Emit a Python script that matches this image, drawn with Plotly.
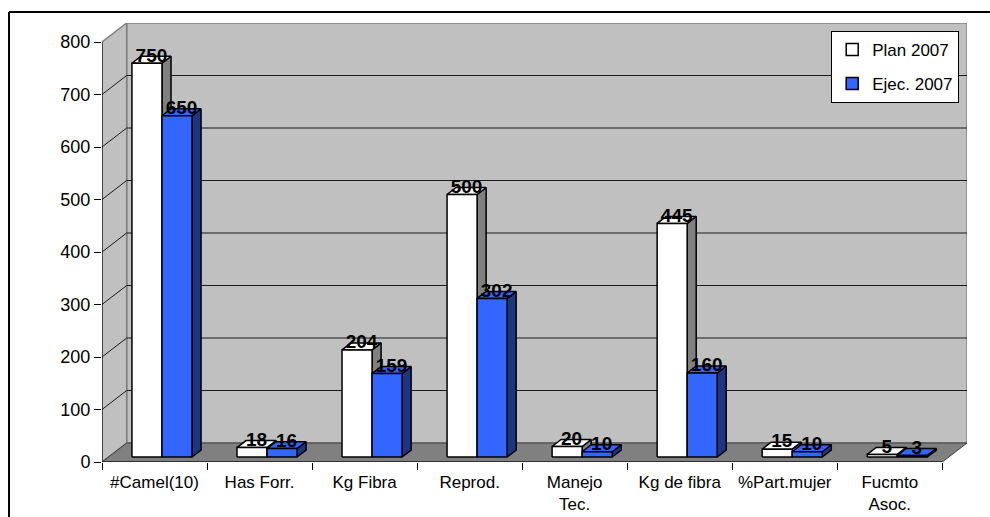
import plotly.graph_objects as go

# ---------------- data ----------------
categories = ["#Camel(10)", "Has Forr.", "Kg Fibra", "Reprod.", "Manejo<br>Tec.",
              "Kg de fibra", "%Part.mujer", "Fucmto<br>Asoc."]
plan_2007 = [750, 18, 204, 500, 20, 445, 15, 5]
ejec_2007 = [650, 16, 159, 302, 10, 160, 10, 3]
series_names = ["Plan 2007", "Ejec. 2007"]
y_ticks = [0, 100, 200, 300, 400, 500, 600, 700, 800]

# ---------------- style / geometry constants ----------------
FONT = "Liberation Sans, Arial, sans-serif"
DX, DY = 0.235, 36.2          # wall depth (x units, value units)
Y_MAX = 800
BASE = 9.5                    # bars sit mid-depth on the floor
BAR_START, BAR_W = 0.285, 0.286
BDX, BDY = 0.086, 13.3        # bar depth
front_colors = ["#FFFFFF", "#3366FF"]
side_colors = ["#808080", "#1F3580"]
top_colors = ["#FFFFFF", "#3366FF"]
OUTLINE = dict(color="#000000", width=1.5)
n = len(categories)

fig = go.Figure()

# ---------------- walls & floor (shapes) ----------------
shapes = []
wall_line = dict(color="#808080", width=1.5)
shapes.append(dict(type="path", xref="x", yref="y", layer="below",
                   path=f"M {DX},{DY} L {n+DX},{DY} L {n+DX},{Y_MAX+DY} L {DX},{Y_MAX+DY} Z",
                   fillcolor="#C0C0C0", line=wall_line))
shapes.append(dict(type="path", xref="x", yref="y", layer="below",
                   path=f"M 0,0 L 0,{Y_MAX} L {DX},{Y_MAX+DY} L {DX},{DY} Z",
                   fillcolor="#C0C0C0", line=wall_line))
shapes.append(dict(type="path", xref="x", yref="y", layer="below",
                   path=f"M 0,0 L {DX},{DY} L {n+DX},{DY} L {n},0 Z",
                   fillcolor="#808080", line=dict(color="#404040", width=1)))
for v in y_ticks[1:-1]:
    shapes.append(dict(type="line", xref="x", yref="y", layer="below",
                       x0=DX, x1=n + DX, y0=v + DY, y1=v + DY,
                       line=dict(color="#1a1a1a", width=1)))
    shapes.append(dict(type="line", xref="x", yref="y", layer="below",
                       x0=0, x1=DX, y0=v, y1=v + DY,
                       line=dict(color="#1a1a1a", width=1)))
shapes.append(dict(type="line", xref="x", yref="y", layer="below",
                   x0=0, x1=0, y0=0, y1=Y_MAX, line=dict(color="#000000", width=1)))
shapes.append(dict(type="line", xref="x", yref="y", layer="below",
                   x0=0, x1=n, y0=0, y1=0, line=dict(color="#000000", width=1)))
# outer chart border (top & left visible)
shapes.append(dict(type="line", xref="paper", yref="paper",
                   x0=-0.1075, x1=1.05, y0=1.025, y1=1.025,
                   line=dict(color="#000000", width=2)))
shapes.append(dict(type="line", xref="paper", yref="paper",
                   x0=-0.1075, x1=-0.1075, y0=1.025, y1=-0.15,
                   line=dict(color="#000000", width=2)))

# ---------------- 3D bars built from data ----------------
def faces(values, s):
    fx, fy, sx, sy, tx, ty = [], [], [], [], [], []
    for i, v in enumerate(values):
        x0 = i + BAR_START + s * BAR_W
        x1 = x0 + BAR_W
        top = BASE + v
        fx += [x0, x1, x1, x0, x0, None]
        fy += [BASE, BASE, top, top, BASE, None]
        sx += [x1, x1 + BDX, x1 + BDX, x1, x1, None]
        sy += [BASE, BASE + BDY, top + BDY, top, BASE, None]
        tx += [x0, x1, x1 + BDX, x0 + BDX, x0, None]
        ty += [top, top, top + BDY, top + BDY, top, None]
    return (fx, fy), (sx, sy), (tx, ty)

for s, vals in enumerate([plan_2007, ejec_2007]):
    (fx, fy), (sx, sy), (tx, ty) = faces(vals, s)
    for (xx, yy), col in [((sx, sy), side_colors[s]), ((tx, ty), top_colors[s]),
                          ((fx, fy), front_colors[s])]:
        fig.add_trace(go.Scatter(x=xx, y=yy, mode="lines", fill="toself",
                                 fillcolor=col, line=OUTLINE, showlegend=False,
                                 hoverinfo="skip"))

# data labels
for s, vals in enumerate([plan_2007, ejec_2007]):
    fig.add_trace(go.Scatter(
        x=[i + BAR_START + s * BAR_W + BAR_W / 2 + BDX / 2 for i in range(n)],
        y=[BASE + v + BDY - 1 for v in vals],
        text=[str(v) for v in vals], mode="text", textposition="middle center",
        textfont=dict(family=FONT, size=19, color="#000000", weight="bold"),
        showlegend=False, hoverinfo="skip", cliponaxis=False))

# legend entries
for s, name in enumerate(series_names):
    fig.add_trace(go.Bar(x=[None], y=[None], name=name, legendgroup=name,
                         marker=dict(color=front_colors[s],
                                     line=dict(color="#000000", width=1.5))))

fig.update_layout(
    width=990, height=517,
    margin=dict(l=102, r=23, t=23, b=55),
    paper_bgcolor="#FFFFFF", plot_bgcolor="rgba(0,0,0,0)",
    shapes=shapes,
    font=dict(family=FONT, color="#000000"),
    legend=dict(x=0.843, y=0.982, xanchor="left", yanchor="top",
                bgcolor="#FFFFFF", bordercolor="#000000", borderwidth=1,
                font=dict(family=FONT, size=17, color="#000000"),
                traceorder="grouped", tracegroupgap=9, itemwidth=30),
    xaxis=dict(type="linear", range=[0, n + DX], showgrid=False, zeroline=False,
               showline=False, automargin=False,
               tickvals=[i + 0.5 for i in range(n)], ticktext=categories,
               ticks="", tickfont=dict(family=FONT, size=17, color="#000000"),
               ticklabelstandoff=8,
               minor=dict(tickvals=list(range(n + 1)), ticks="outside", ticklen=7,
                          tickcolor="#000000", tickwidth=1, showgrid=False)),
    yaxis=dict(range=[0, Y_MAX + DY], tickvals=y_ticks, showgrid=False, zeroline=False,
               showline=False, automargin=False, ticks="outside", ticklen=7,
               tickcolor="#000000", tickwidth=1,
               tickfont=dict(family=FONT, size=18, color="#000000")),
)

fig.write_html("out.html")
